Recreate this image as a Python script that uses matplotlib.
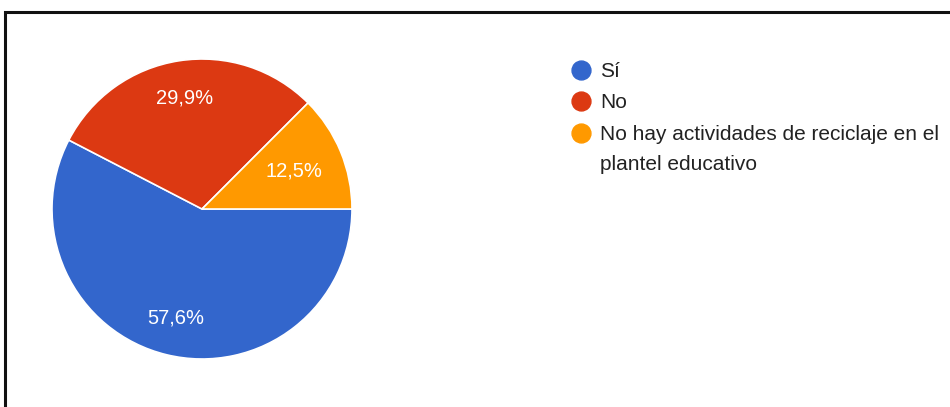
import matplotlib
matplotlib.use("Agg")
import matplotlib.pyplot as plt

plt.rcParams['font.family'] = ['Liberation Sans', 'DejaVu Sans']

categorias = ['Sí', 'No', 'No hay actividades de reciclaje en el\nplantel educativo']
porcentajes = [57.6, 29.9, 12.5]
colores = ['#3366cc', '#dc3912', '#ff9900']

W, H = 950, 407
fig = plt.figure(figsize=(W / 100, H / 100), dpi=100)

# capa en píxeles para el marco y la leyenda
capa = fig.add_axes([0, 0, 1, 1])
capa.set_xlim(0, W)
capa.set_ylim(H, 0)
capa.axis('off')
capa.plot([5, 5, W], [H, 12, 12], color='#111111', lw=2.2, solid_joinstyle='miter')

# pastel: centro (202, 209), radio 150 px
cx, cy, r = 202, 209, 150
ax = fig.add_axes([(cx - r) / W, (H - cy - r) / H, 2 * r / W, 2 * r / H])
cunas, textos, pct = ax.pie(
    porcentajes, colors=colores, startangle=0, counterclock=False,
    autopct=lambda p: f'{p:.1f}%'.replace('.', ','), pctdistance=0.75,
    wedgeprops=dict(edgecolor='white', linewidth=1.2),
    textprops=dict(color='white', fontsize=14.5))
# la etiqueta de la porción pequeña va más cerca del centro
x, y = pct[2].get_position()
pct[2].set_position((x * 0.88, y * 0.88))
ax.set_xlim(-1, 1)
ax.set_ylim(-1, 1)
ax.set_aspect('equal')

# leyenda
filas = [70, 101, 133]
for y, c, t in zip(filas, colores, categorias):
    capa.scatter([581], [y], s=185, color=c, zorder=3)
    capa.text(600, y - 8, t, fontsize=15, color='#222222', va='top', ha='left',
              linespacing=1.7)

fig.savefig('out.png', dpi=100)
